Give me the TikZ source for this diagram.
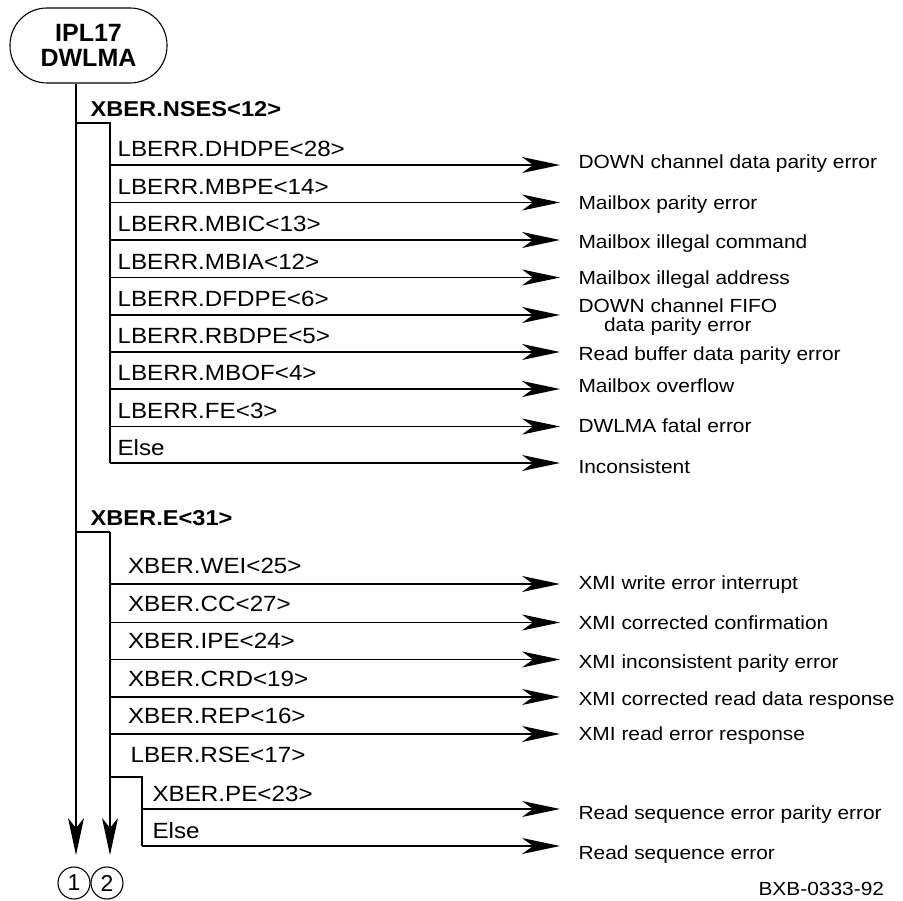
\documentclass[tikz,border=0pt]{standalone}
\usepackage{fontspec}
\setmainfont{Liberation Sans}
\newfontfamily\wf{Liberation Sans}[FakeStretch=1.1]
\usetikzlibrary{arrows.meta}
\begin{document}
\begin{tikzpicture}[x=1pt,y=-1pt, line width=1.1pt,
  br/.style={anchor=base west, inner sep=0pt, font=\wf\fontsize{22}{24}\selectfont},
  hd/.style={anchor=base west, inner sep=0pt, font=\wf\bfseries\fontsize{21.5}{24}\selectfont},
  lb/.style={anchor=base west, inner sep=0pt, font=\wf\fontsize{19}{19}\selectfont},
  arr/.style={-{Stealth[length=38pt,width=16pt,inset=11pt]}},
  vr/.style={-{Stealth[length=37pt,width=16pt,inset=10pt]}},
  num/.style={circle, draw, minimum size=32pt, inner sep=0pt, font=\fontsize{23}{23}\selectfont}
]
\useasboundingbox (0,0) rectangle (903,901);

% start node
\node[draw, rounded corners=37pt, minimum width=157pt, minimum height=75pt, align=center,
      inner sep=0pt, font=\bfseries\fontsize{25}{25}\selectfont] (top) at (88.5,45.5) {IPL17\\DWLMA};

\coordinate (c1) at (76,855);
\coordinate (c2) at (110,855);
\draw[vr] (top.south -| c1) -- (c1);

% section 1
\node[hd] (h1) at (90,117) {XBER.NSES<12>};
\coordinate (b1) at (76,123);
\coordinate (b1r) at (110,123);
\coordinate (b1e) at (110,463);
\draw (b1) -- (b1r) -- (b1e);

\foreach \i/\y/\t/\ly/\l in {
  1/165/LBERR.DHDPE<28>/169/DOWN channel data parity error,
  2/202.5/LBERR.MBPE<14>/210/Mailbox parity error,
  3/240/LBERR.MBIC<13>/249/Mailbox illegal command,
  4/277.5/LBERR.MBIA<12>/285/Mailbox illegal address,
  6/352/LBERR.RBDPE<5>/361/Read buffer data parity error,
  7/389/LBERR.MBOF<4>/393/Mailbox overflow,
  8/426.5/LBERR.FE<3>/433/DWLMA fatal error,
  9/463/Else/473/Inconsistent}{
  \node[br] (s\i) at (117,\y-8) {\t};
  \coordinate (a\i) at (110,\y);
  \coordinate (e\i) at (560,\y);
  \draw[arr] (a\i) -- (e\i);
  \node[lb] (l\i) at (578,\ly) {\l};
}
\node[br] (s5) at (117,307) {LBERR.DFDPE<6>};
\coordinate (a5) at (110,315);
\coordinate (e5) at (560,315);
\draw[arr] (a5) -- (e5);
\node[lb, align=center] (l5) at (578,332) {DOWN channel FIFO\\data parity error};

% section 2
\node[hd] (h2) at (90,525) {XBER.E<31>};
\coordinate (b2) at (76,532);
\coordinate (b2r) at (110,532);
\draw (b2) -- (b2r);
\draw[vr] (b2r) -- (c2);

\foreach \i/\y/\t/\ly/\l in {
  1/584/XBER.WEI<25>/589/XMI write error interrupt,
  2/622.5/XBER.CC<27>/629/XMI corrected confirmation,
  3/659.5/XBER.IPE<24>/668/XMI inconsistent parity error,
  4/697/XBER.CRD<19>/705/XMI corrected read data response,
  5/734/XBER.REP<16>/740/XMI read error response}{
  \node[br] (t\i) at (127.5,\y-11) {\t};
  \coordinate (f\i) at (110,\y);
  \coordinate (g\i) at (560,\y);
  \draw[arr] (f\i) -- (g\i);
  \node[lb] (m\i) at (578,\ly) {\l};
}
\node[br] (t6) at (130,762) {LBER.RSE<17>};
\coordinate (k1) at (110,777);
\coordinate (k2) at (142,777);
\coordinate (k3) at (142,846);
\draw (k1) -- (k2) -- (k3);

\foreach \i/\y/\t/\ly/\l in {
  7/809/XBER.PE<23>/819/Read sequence error parity error,
  8/846/Else/859/Read sequence error}{
  \node[br] (t\i) at (152,\y-7.5) {\t};
  \coordinate (f\i) at (142,\y);
  \coordinate (g\i) at (560,\y);
  \draw[arr] (f\i) -- (g\i);
  \node[lb] (m\i) at (578,\ly) {\l};
}

\node[num] (n1) at (74,883) {1};
\node[num] (n2) at (107,883) {2};

\node[lb] (id) at (758,895) {BXB-0333-92};
\end{tikzpicture}
\end{document}
